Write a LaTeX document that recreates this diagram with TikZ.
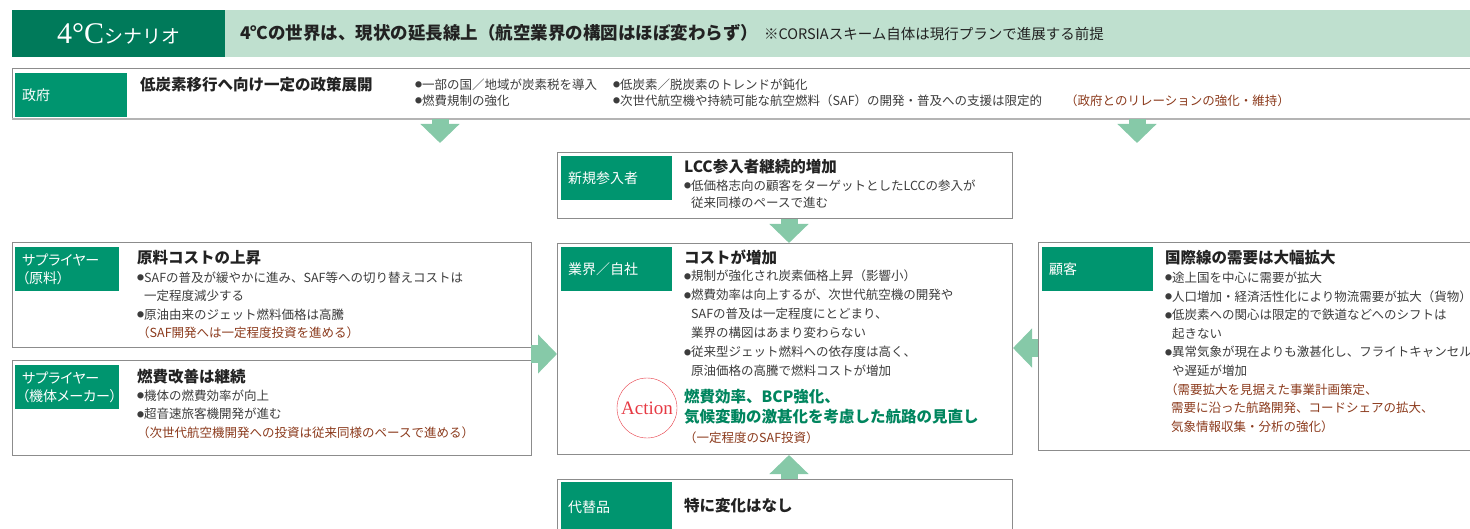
\documentclass[tikz,border=0pt]{standalone}
\usepackage{fontspec}
\setmainfont{Noto Sans CJK JP}
\newfontfamily\titleserif{Liberation Serif}
\usepackage{tikz}
\usetikzlibrary{arrows.meta,positioning,calc}

\definecolor{scengreen}{HTML}{007A5A}
\definecolor{titlegreen}{HTML}{BFE0CF}
\definecolor{taggreen}{HTML}{00956F}
\definecolor{arrowgreen}{HTML}{86C9A8}
\definecolor{boxgray}{HTML}{8C8C8C}
\definecolor{shadowgray}{HTML}{B4B4B4}
\definecolor{headblack}{HTML}{222222}
\definecolor{bodygray}{HTML}{3C3C3C}
\definecolor{notebrown}{HTML}{8B3A1C}
\definecolor{actiongreen}{HTML}{00855E}
\definecolor{actionred}{HTML}{E63A44}

\newcommand{\bul}{\raisebox{1.6pt}{\fontsize{7}{7}\selectfont ●}}
\newcommand{\ind}{\phantom{\bul}}
\newcommand{\brown}[1]{\textcolor{notebrown}{#1}}

\begin{document}
\begin{tikzpicture}[
    x=1pt, y=-1pt,
    panel/.style={draw=boxgray, line width=1pt, anchor=north west,
                  inner sep=0pt},
    tag/.style={fill=taggreen, text=white, anchor=north west,
                minimum height=44pt, text width=97pt, inner xsep=7pt,
                inner ysep=0pt, align=left,
                font=\fontsize{14}{18}\selectfont\addfontfeature{RawFeature=+palt}},
    head/.style={anchor=north west, inner sep=0pt, text=headblack,
                 font=\bfseries\fontsize{15.5}{19.5}\selectfont},
    body/.style={anchor=north west, inner sep=0pt, align=left,
                 text=bodygray, font=\fontsize{12.5}{18.6}\selectfont},
    note/.style={body, text=notebrown},
    blockarrow/.style={-{Triangle[length=19pt, width=38pt]},
                       line width=17pt, draw=arrowgreen},
  ]

  \useasboundingbox (0,0) rectangle (1470,529);
  \clip (0,0) rectangle (1470,529);

  % ══════════════════════════════════════════════
  % Layout (pixel grid, y downwards)
  %
  %   row 0 : scenario title bar
  %   row 1 : government (full width)
  %   row 2 : new entrants (centre)
  %   row 3 : suppliers (left), industry (centre), customers (right)
  %   row 4 : substitutes (centre)
  % ══════════════════════════════════════════════

  % ── Row 0: title bar ──
  \node[fill=scengreen, anchor=north west, minimum width=213pt,
    minimum height=47pt, inner sep=0pt, text=white] (scen) at (12,10)
    {{\titleserif\fontsize{30}{30}\selectfont 4°C}\fontsize{19}{19}\selectfont シナリオ};
  \node[fill=titlegreen, anchor=north west, minimum width=1250pt,
    minimum height=47pt, inner sep=0pt] (titlebar) at (225,10) {};
  \node[anchor=west, inner sep=0pt, text=headblack] (titletext) at (240,33)
    {{\bfseries\fontsize{17.5}{20}\selectfont 4℃の世界は、現状の延長線上（航空業界の構図はほぼ変わらず）}\hspace{6pt}%
     {\fontsize{14.5}{18}\selectfont ※CORSIAスキーム自体は現行プランで進展する前提}};

  % ── Row 1: government ──
  \node[panel, minimum width=1470pt, minimum height=50pt] (gov) at (12,68) {};
  \draw[line width=2pt, shadowgray] (gov.south west) -- (gov.south east);
  \node[tag, text width=98pt] (govtag) at (15,73) {政府};
  \node[head] (govhead) at (140,77.2) {低炭素移行へ向け一定の政策展開};
  \node[body, font=\fontsize{12.5}{16}\selectfont] (govlistA) at (415,78.7)
    {\bul 一部の国／地域が炭素税を導入\\
     \bul 燃費規制の強化};
  \node[body, font=\fontsize{12.5}{16}\selectfont] (govlistB) at (613,78.7)
    {\bul 低炭素／脱炭素のトレンドが鈍化\\
     \bul 次世代航空機や持続可能な航空燃料（SAF）の開発・普及への支援は限定的};
  \node[note] (govnote) at (1065,94.7) {（政府とのリレーションの強化・維持）};

  % ── Row 2: new entrants ──
  \node[panel, minimum width=455pt, minimum height=66pt] (entrant) at (557,152) {};
  \node[tag] (entranttag) at (561,156) {新規参入者};
  \node[head] (entranthead) at (684,159.2) {LCC参入者継続的増加};
  \node[body, font=\fontsize{12.5}{17}\selectfont] (entrantlist) at (684,179.7)
    {\bul 低価格志向の顧客をターゲットとしたLCCの参入が\\
     \ind 従来同様のペースで進む};

  % ── Row 3 centre: industry / own company ──
  \node[panel, minimum width=455pt, minimum height=211pt] (industry) at (557,243) {};
  \node[tag] (industrytag) at (561,247) {業界／自社};
  \node[head] (industryhead) at (684,250.2) {コストが増加};
  \node[body, font=\fontsize{12.5}{19}\selectfont] (industrylist) at (684,269.7)
    {\bul 規制が強化され炭素価格上昇（影響小）\\
     \bul 燃費効率は向上するが、次世代航空機の開発や\\
     \ind SAFの普及は一定程度にとどまり、\\
     \ind 業界の構図はあまり変わらない\\
     \bul 従来型ジェット燃料への依存度は高く、\\
     \ind 原油価格の高騰で燃料コストが増加};
  \node[draw=actionred, circle, minimum size=60pt, inner sep=0pt,
    text=actionred, font=\titleserif\fontsize{19}{19}\selectfont]
    (action) at (647,408) {Action};
  \node[head, align=left, text=actiongreen] (actiontext) at (684,389)
    {燃費効率、BCP強化、\\
     気候変動の激甚化を考慮した航路の見直し};
  \node[note] (actionnote) at (684,431.7) {（一定程度のSAF投資）};

  % ── Row 3 left: suppliers ──
  \node[panel, minimum width=519pt, minimum height=105pt] (supraw) at (12,242) {};
  \node[tag, text width=90pt] (suprawtag) at (15,247)
    {サプライヤー\\（原料）};
  \node[head] (suprawhead) at (137,250.2) {原料コストの上昇};
  \node[body, font=\fontsize{12.5}{18.5}\selectfont] (suprawlist) at (137,271.7)
    {\bul SAFの普及が緩やかに進み、SAF等への切り替えコストは\\
     \ind 一定程度減少する\\
     \bul 原油由来のジェット燃料価格は高騰\\
     \brown{（SAF開発へは一定程度投資を進める）}};

  \node[panel, minimum width=519pt, minimum height=95pt] (supair) at (12,360) {};
  \node[tag, text width=90pt] (supairtag) at (15,365)
    {サプライヤー\\（機体メーカー）};
  \node[head] (supairhead) at (137,369.2) {燃費改善は継続};
  \node[body, font=\fontsize{12.5}{18.5}\selectfont] (supairlist) at (137,389.7)
    {\bul 機体の燃費効率が向上\\
     \bul 超音速旅客機開発が進む\\
     \brown{（次世代航空機開発への投資は従来同様のペースで進める）}};

  % ── Row 3 right: customers ──
  \node[panel, minimum width=440pt, minimum height=208pt] (customer) at (1038,242) {};
  \node[tag] (customertag) at (1042,247) {顧客};
  \node[head] (customerhead) at (1165,250.2) {国際線の需要は大幅拡大};
  \node[body] (customerlist) at (1165,271.7)
    {\bul 途上国を中心に需要が拡大\\
     \bul 人口増加・経済活性化により物流需要が拡大（貨物）\\
     \bul 低炭素への関心は限定的で鉄道などへのシフトは\\
     \ind 起きない\\
     \bul 異常気象が現在よりも激甚化し、フライトキャンセル\\
     \ind や遅延が増加\\
     \brown{（需要拡大を見据えた事業計画策定、}\\
     \hspace*{6pt}\brown{需要に沿った航路開発、コードシェアの拡大、}\\
     \hspace*{6pt}\brown{気象情報収集・分析の強化）}};

  % ── Row 4: substitutes ──
  \node[panel, minimum width=455pt, minimum height=60pt] (subst) at (557,479) {};
  \node[tag, minimum height=50pt] (substtag) at (561,482) {代替品};
  \node[head] (substhead) at (684,498) {特に変化はなし};

  % ══════════════════════════════════════════════
  % Block arrows
  % ══════════════════════════════════════════════
  \coordinate (govarrL) at (440,143);
  \coordinate (govarrR) at (1137,143);
  \coordinate (suparr) at (531,354);
  \coordinate (custarr) at (1038,348);

  % ── government pushes down ──
  \draw[blockarrow] (gov.south -| govarrL) -- (govarrL);
  \draw[blockarrow] (gov.south -| govarrR) -- (govarrR);

  % ── entrants / substitutes into industry ──
  \draw[blockarrow] ([xshift=4pt]entrant.south) -- ([xshift=4pt]industry.north);
  \draw[blockarrow] ([xshift=4pt]subst.north) -- ([xshift=4pt]industry.south);

  % ── suppliers / customers into industry ──
  \draw[blockarrow] (suparr) -- (suparr -| industry.west);
  \draw[blockarrow] (custarr) -- (custarr -| industry.east);

\end{tikzpicture}
\end{document}
